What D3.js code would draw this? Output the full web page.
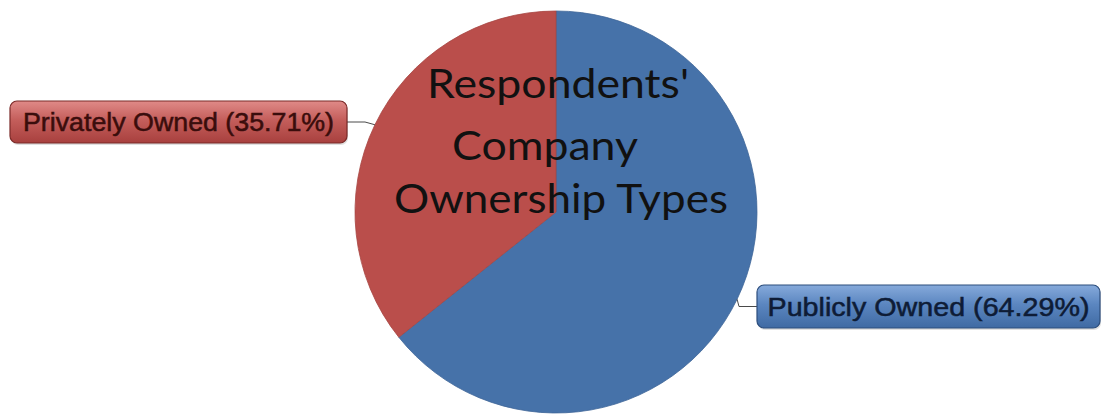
<!DOCTYPE html>
<html>
<head>
<meta charset="utf-8">
<script src="https://cdn.jsdelivr.net/npm/d3@7"></script>
<style>
  html, body { margin: 0; padding: 0; background: #fff; }
  svg { display: block; }
</style>
</head>
<body>
<svg id="chart" width="1103" height="419"></svg>
<script>
// Ownership split of the respondents' companies
const categories = ["Publicly Owned", "Privately Owned"];
const shares = [64.29, 35.71];
const sliceColors = ["#4672A9", "#BA4E4B"];
const titleLines = ["Respondents'", "Company", "Ownership Types"];

const svg = d3.select("#chart");
const cx = 556, cy = 212, radius = 201;

const data = categories.map((c, i) => ({ name: c, value: shares[i], color: sliceColors[i] }));

const pie = d3.pie().sort(null).value(d => d.value);
const arc = d3.arc().innerRadius(0).outerRadius(radius);
const arcs = pie(data);

const defs = svg.append("defs");

// glossy gradients for the label boxes
const boxStyles = [
  { id: "gBlue", top: "#86aadb", mid: "#5b86c0", bottom: "#3f6aa3", stroke: "#2d4e7d", text: "#0e1c36" },
  { id: "gRed", top: "#e08a88", mid: "#c45e5b", bottom: "#a8403e", stroke: "#7b2a28", text: "#3a0d0c" }
];
boxStyles.forEach(s => {
  const g = defs.append("linearGradient").attr("id", s.id)
    .attr("x1", 0).attr("y1", 0).attr("x2", 0).attr("y2", 1);
  g.append("stop").attr("offset", "0%").attr("stop-color", s.top);
  g.append("stop").attr("offset", "45%").attr("stop-color", s.mid);
  g.append("stop").attr("offset", "100%").attr("stop-color", s.bottom);
});

const root = svg.append("g").attr("transform", `translate(${cx},${cy})`);

root.selectAll("path.slice")
  .data(arcs)
  .join("path")
  .attr("class", "slice")
  .attr("d", arc)
  .attr("fill", d => d.data.color)
  .attr("stroke", d => d3.color(d.data.color).darker(0.3))
  .attr("stroke-width", 0.8);

// label boxes: position of each box (left, top) on the page
const boxes = [
  { x: 757, y: 285, w: 343, h: 43, side: 1 },
  { x: 10, y: 101, w: 337, h: 42, side: -1 }
];
const labelWidths = [322, 311];

arcs.forEach((a, i) => {
  const mid = (a.startAngle + a.endAngle) / 2;
  const px = cx + radius * Math.sin(mid);
  const py = cy - radius * Math.cos(mid);
  const b = boxes[i];
  const s = boxStyles[i];
  const by = b.y + b.h / 2;
  const edgeX = b.side > 0 ? b.x : b.x + b.w;
  const elbowX = edgeX - b.side * 18;

  svg.append("path")
    .attr("d", d3.line()([[px, py], [elbowX, by], [edgeX, by]]))
    .attr("fill", "none")
    .attr("stroke", "#4a4a4a")
    .attr("stroke-width", 1);

  // soft shadow under the box
  svg.append("rect")
    .attr("x", b.x + 1).attr("y", b.y + 2)
    .attr("width", b.w).attr("height", b.h)
    .attr("rx", 7)
    .attr("fill", "#000").attr("opacity", 0.12);

  svg.append("rect")
    .attr("x", b.x).attr("y", b.y)
    .attr("width", b.w).attr("height", b.h)
    .attr("rx", 7)
    .attr("fill", `url(#${s.id})`)
    .attr("stroke", s.stroke)
    .attr("stroke-width", 1.2);

  svg.append("text")
    .attr("x", b.x + b.w / 2)
    .attr("y", by + 9)
    .attr("text-anchor", "middle")
    .attr("font-family", "'Liberation Sans', Arial, sans-serif")
    .attr("font-size", 25)
    .attr("textLength", labelWidths[i])
    .attr("lengthAdjust", "spacingAndGlyphs")
    .attr("fill", s.text)
    .attr("stroke", s.text)
    .attr("stroke-width", 0.5)
    .text(`${a.data.name} (${a.data.value.toFixed(2)}%)`);
});

// title over the pie
const titleX = [558, 545, 561];
const titleW = [262, 186, 334];
const titleBase = [98, 160, 213];
svg.append("g").selectAll("text")
  .data(titleLines)
  .join("text")
  .attr("x", (d, i) => titleX[i])
  .attr("y", (d, i) => titleBase[i])
  .attr("text-anchor", "middle")
  .attr("font-family", "Lato, 'Open Sans', sans-serif")
  .attr("font-size", 41)
  .attr("textLength", (d, i) => titleW[i])
  .attr("lengthAdjust", "spacingAndGlyphs")
  .attr("fill", "#111")
  .text(d => d);
</script>
</body>
</html>
